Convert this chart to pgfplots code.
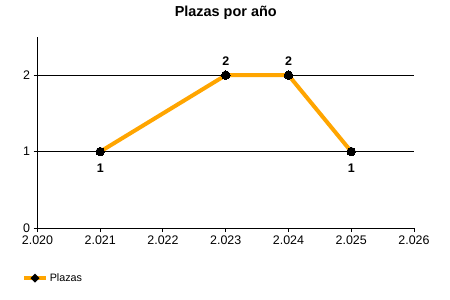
\documentclass[border=0pt]{standalone}
\usepackage{pgfplots}
\pgfplotsset{compat=1.18}
\usepackage{fontspec}
\setmainfont{Liberation Sans}
\definecolor{plorange}{HTML}{FFA500}
\begin{document}
\begin{tikzpicture}
\path[use as bounding box] (-37.5bp,-72bp) rectangle (412.5bp,228bp);
\begin{axis}[
  at={(0,0)}, anchor=south west,
  scale only axis,
  width=376.5bp, height=191bp,
  xmin=2020, xmax=2026, ymin=0, ymax=2.5,
  xtick={2020,2021,2022,2023,2024,2025,2026},
  xticklabels={2.020,2.021,2.022,2.023,2.024,2.025,2.026},
  ytick={0,1,2},
  yticklabels={0,1,2},
  axis lines*=left,
  axis line style={line width=1bp, black},
  tick align=outside,
  major tick length=4bp,
  tick style={line width=1bp, black},
  ymajorgrids,
  grid style={line width=1bp, black},
  tick label style={font=\fontsize{12.5}{14}\selectfont},
  title={Plazas por año},
  title style={font=\fontsize{14.5}{16}\selectfont\bfseries, at={(0.5,1)}, anchor=center, yshift=18bp},
  legend style={draw=none, fill=none, inner sep=0pt, at={(axis description cs:-0.041,-0.262)}, anchor=west,
    font=\fontsize{10.8}{12}\selectfont, legend cell align=left},
  legend image code/.code={
    \draw[line width=3.5bp, plorange] (0bp,0bp) -- (22bp,0bp);
    \fill[black] (11bp,0bp) circle (1.7bp);
  },
  clip=false,
]
\addplot[plorange, line width=4bp, mark=*, mark size=4.3bp,
  mark options={black, fill=black, line width=0pt}]
  coordinates {(2021,1) (2023,2) (2024,2) (2025,1)};
\addlegendentry{Plazas}
\addplot[draw=none, forget plot,
  nodes near coords={\pgfmathprintnumber[assume math mode=true]{\pgfplotspointmeta}},
  nodes near coords align={above},
  every node near coord/.style={font=\fontsize{12.5}{14}\selectfont\bfseries, black, yshift=6.5bp}]
  coordinates {(2023,2) (2024,2)};
\addplot[draw=none, forget plot,
  nodes near coords={\pgfmathprintnumber[assume math mode=true]{\pgfplotspointmeta}},
  nodes near coords align={below},
  every node near coord/.style={font=\fontsize{12.5}{14}\selectfont\bfseries, black, yshift=-8.5bp}]
  coordinates {(2021,1) (2025,1)};
\end{axis}
\end{tikzpicture}
\end{document}
